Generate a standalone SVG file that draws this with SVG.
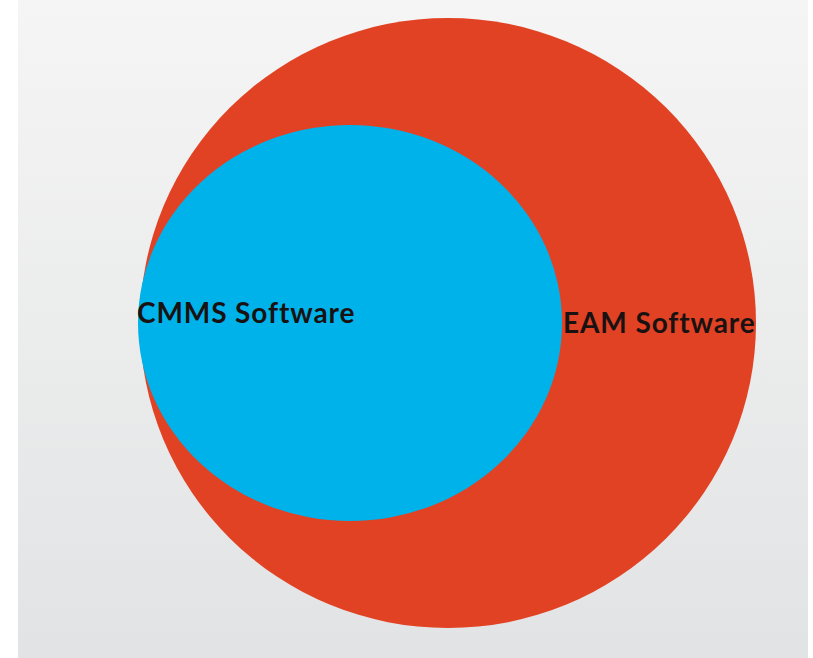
<svg xmlns="http://www.w3.org/2000/svg" width="813" height="658" viewBox="0 0 813 658">
  <defs>
    <linearGradient id="bg" x1="0" y1="0" x2="0" y2="1">
      <stop offset="0" stop-color="#f5f5f5"/>
      <stop offset="1" stop-color="#e2e3e4"/>
    </linearGradient>
    <style>
      .lbl { font-family: Lato, "Liberation Sans", sans-serif; font-weight: bold; font-size: 28px; letter-spacing: 0.9px; fill: #1a1212; }
    </style>
  </defs>
  <rect x="0" y="0" width="813" height="658" fill="#ffffff"/>
  <rect x="18" y="0" width="790" height="658" fill="url(#bg)"/>
  <g id="eam">
    <ellipse cx="448" cy="323" rx="308" ry="305" fill="#e24224"/>
    <text class="lbl" x="563" y="333">EAM Software</text>
  </g>
  <g id="cmms">
    <ellipse cx="350" cy="323" rx="212" ry="198" fill="#00b2ea"/>
    <text class="lbl" x="137" y="323">CMMS Software</text>
  </g>
  <g id="connectors"/>
</svg>
